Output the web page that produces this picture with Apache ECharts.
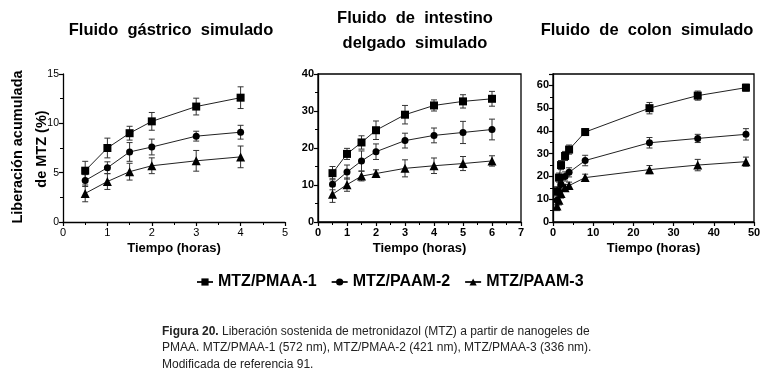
<!DOCTYPE html>
<html>
<head>
<meta charset="utf-8">
<script src="https://cdn.jsdelivr.net/npm/echarts@6/dist/echarts.min.js"></script>
<style>
  html, body { margin: 0; padding: 0; background: #fff; }
  #chart { width: 769px; height: 388px; }
</style>
</head>
<body>
<div id="chart"></div>
<script>
// nombres de las series
const seriesNames = ['MTZ/PMAA-1', 'MTZ/PAAM-2', 'MTZ/PAAM-3'];
const symbols = ['rect', 'circle', 'triangle'];
const symbolSizes = [8, 7, 9];

// fluido gastrico
const timeGas = [0.5, 1, 1.5, 2, 3, 4];
const gasPMAA1 = [5.2, 7.5, 9.0, 10.2, 11.7, 12.6];
const gasPAAM2 = [4.2, 5.5, 7.1, 7.6, 8.7, 9.1];
const gasPAAM3 = [2.9, 4.1, 5.1, 5.7, 6.2, 6.6];
const gasErr1 = [0.95, 1.0, 0.7, 0.9, 0.85, 1.1];
const gasErr2 = [0.6, 0.6, 0.95, 0.8, 0.5, 0.7];
const gasErr3 = [0.85, 0.8, 0.85, 0.8, 1.05, 1.1];

// fluido intestino delgado
const timeInt = [0.5, 1, 1.5, 2, 3, 4, 5, 6];
const intPMAA1 = [13.2, 18.4, 21.5, 24.8, 29.0, 31.5, 32.6, 33.3];
const intPAAM2 = [10.2, 13.5, 16.5, 19.0, 22.0, 23.4, 24.2, 25.0];
const intPAAM3 = [7.5, 10.1, 12.4, 13.1, 14.5, 15.2, 15.8, 16.5];
const intErr1 = [1.8, 1.5, 1.8, 2.5, 2.5, 1.5, 1.8, 2.0];
const intErr2 = [1.5, 1.9, 2.7, 2.1, 2.0, 2.0, 3.0, 2.8];
const intErr3 = [2.2, 1.8, 1.3, 1.0, 2.3, 2.1, 1.9, 1.4];

// fluido colon
const timeCol = [1, 1.5, 2, 3, 4, 8, 24, 36, 48];
const colPMAA1 = [13.5, 19.5, 25.0, 29.0, 31.8, 39.5, 50.0, 55.5, 59.0];
const colPAAM2 = [9.5, 13.0, 16.5, 20.0, 21.8, 27.0, 34.8, 36.7, 38.5];
const colPAAM3 = [7.0, 9.5, 12.5, 15.0, 16.0, 19.5, 23.0, 25.0, 26.5];
const colErr1 = [2, 2, 2, 2, 2, 1.5, 2.5, 2.0, 1.5];
const colErr2 = [2, 2, 2, 2, 2, 2.3, 2.3, 1.8, 2.5];
const colErr3 = [2, 2, 2, 1.5, 1.5, 1.5, 1.8, 2.5, 2.0];

const FONT = 'Arial, "Liberation Sans", sans-serif';

const panels = [
    {time: timeGas, vals: [gasPMAA1, gasPAAM2, gasPAAM3], errs: [gasErr1, gasErr2, gasErr3]},
    {time: timeInt, vals: [intPMAA1, intPAAM2, intPAAM3], errs: [intErr1, intErr2, intErr3]},
    {time: timeCol, vals: [colPMAA1, colPAAM2, colPAAM3], errs: [colErr1, colErr2, colErr3]}
];

function renderErr(params, api) {
    const x = api.value(0);
    const top = api.coord([x, api.value(2)]);
    const bot = api.coord([x, api.value(1)]);
    const w = 3;
    const style = {stroke: '#333', lineWidth: 1};
    return {
        type: 'group',
        children: [
            {type: 'line', shape: {x1: top[0], y1: top[1], x2: bot[0], y2: bot[1]}, style: style},
            {type: 'line', shape: {x1: top[0] - w, y1: top[1], x2: top[0] + w, y2: top[1]}, style: style},
            {type: 'line', shape: {x1: bot[0] - w, y1: bot[1], x2: bot[0] + w, y2: bot[1]}, style: style}
        ]
    };
}

const series = [];
panels.forEach((p, pi) => {
    p.vals.forEach((v, si) => {
        series.push({
            name: seriesNames[si] + '-err-' + pi,
            type: 'custom',
            xAxisIndex: pi,
            yAxisIndex: pi,
            renderItem: renderErr,
            encode: {x: 0, y: [1, 2]},
            data: p.time.map((t, i) => [t, v[i] - p.errs[si][i], v[i] + p.errs[si][i]]),
            z: 2,
            silent: true
        });
        series.push({
            name: seriesNames[si],
            type: 'line',
            xAxisIndex: pi,
            yAxisIndex: pi,
            data: p.time.map((t, i) => [t, v[i]]),
            symbol: symbols[si],
            symbolSize: symbolSizes[si],
            showSymbol: true,
            itemStyle: {color: '#000'},
            lineStyle: {color: '#222', width: 1},
            z: 3
        });
    });
});

const axisCommon = {
    axisLine: {lineStyle: {color: '#000', width: 1.3}},
    axisTick: {inside: false, length: 4, lineStyle: {color: '#000', width: 1.2}},
    splitLine: {show: false}
};

function xAx(idx, max, interval, bold) {
    return Object.assign({}, axisCommon, {
        type: 'value', gridIndex: idx, min: 0, max: max, interval: interval,
        minorTick: {show: true, splitNumber: 2, length: 3, lineStyle: {color: '#000'}},
        axisLabel: {color: '#000', fontFamily: FONT, fontSize: 11, margin: 5, fontWeight: bold ? 'bold' : 'normal'},
        name: 'Tiempo (horas)',
        nameLocation: 'middle',
        nameGap: 20,
        nameTextStyle: {fontFamily: FONT, fontSize: 13, fontWeight: 'bold', color: '#000', verticalAlign: 'top'}
    });
}

function yAx(idx, max, interval, bold, hideMax) {
    return Object.assign({}, axisCommon, {
        type: 'value', gridIndex: idx, min: 0, max: max, interval: interval,
        minorTick: {show: true, splitNumber: 2, length: 3, lineStyle: {color: '#000'}},
        axisLabel: {
            color: '#000', fontFamily: FONT, fontSize: bold ? 11 : 10.5, margin: 4,
            fontWeight: bold ? 'bold' : 'normal', showMaxLabel: !hideMax
        }
    });
}

const chart = echarts.init(document.getElementById('chart'), null, {renderer: 'canvas'});

const option = {
    backgroundColor: '#fff',
    animation: false,
    textStyle: {fontFamily: FONT},
    grid: [
        {left: 63, top: 74, width: 222, height: 148},
        {left: 318, top: 74, width: 203, height: 148, show: true, borderColor: '#000', borderWidth: 1.3},
        {left: 553, top: 74, width: 201, height: 148, show: true, borderColor: '#000', borderWidth: 1.3}
    ],
    xAxis: [xAx(0, 5, 1, false), xAx(1, 7, 1, true), xAx(2, 50, 10, true)],
    yAxis: [yAx(0, 15, 5, false, false), yAx(1, 40, 10, true, false), yAx(2, 65, 10, true, true)],
    legend: {
        data: seriesNames,
        left: 191,
        top: 269,
        itemWidth: 16,
        itemHeight: 9,
        itemGap: 14,
        textStyle: {fontFamily: FONT, fontSize: 16, fontWeight: 'bold', color: '#000'}
    },
    graphic: [
        {type: 'text', x: 171, y: 30, style: {text: 'Fluido  gástrico  simulado', font: 'bold 16.5px ' + FONT, fill: '#000', align: 'center', verticalAlign: 'middle'}},
        {type: 'text', x: 415, y: 18, style: {text: 'Fluido  de  intestino', font: 'bold 16.5px ' + FONT, fill: '#000', align: 'center', verticalAlign: 'middle'}},
        {type: 'text', x: 415, y: 43, style: {text: 'delgado  simulado', font: 'bold 16.5px ' + FONT, fill: '#000', align: 'center', verticalAlign: 'middle'}},
        {type: 'text', x: 647, y: 30, style: {text: 'Fluido  de  colon  simulado', font: 'bold 16.5px ' + FONT, fill: '#000', align: 'center', verticalAlign: 'middle'}},
        {type: 'text', x: 18, y: 147, rotation: Math.PI / 2, style: {text: 'Liberación acumulada', font: 'bold 14.5px ' + FONT, fill: '#000', align: 'center', verticalAlign: 'middle'}},
        {type: 'text', x: 42, y: 149, rotation: Math.PI / 2, style: {text: 'de MTZ (%)', font: 'bold 14.5px ' + FONT, fill: '#000', align: 'center', verticalAlign: 'middle'}},
        {
            type: 'text', x: 162, y: 323,
            style: {
                text: '{b|Figura 20.} Liberación sostenida de metronidazol (MTZ) a partir de nanogeles de\nPMAA. MTZ/PMAA-1 (572 nm), MTZ/PMAA-2 (421 nm), MTZ/PMAA-3 (336 nm).\nModificada de referencia 91.',
                font: '12px ' + FONT,
                fill: '#222',
                lineHeight: 16.7,
                rich: {b: {fontWeight: 'bold', fontSize: 12, fontFamily: FONT, fill: '#222', lineHeight: 16.7}}
            }
        }
    ],
    series: series
};

chart.setOption(option);
</script>
</body>
</html>
